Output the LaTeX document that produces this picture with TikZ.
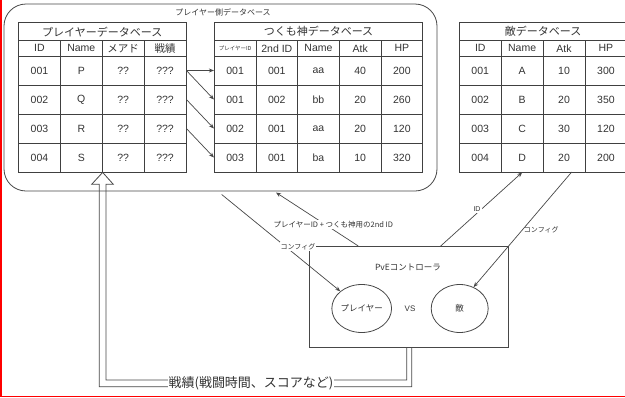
\documentclass[tikz,border=0pt]{standalone}
\usepackage{fontspec}
\setmainfont{Liberation Sans}
\newfontfamily\jp{Noto Sans CJK JP}
\usetikzlibrary{arrows.meta,shapes.geometric}
\begin{document}
\begin{tikzpicture}[x=1pt,y=-1pt,
  ln/.style={draw=black!72, line width=0.8pt},
  cell/.style={draw=black!75, line width=0.8pt, inner sep=0pt, text=black!80,
    font=\fontsize{10.5}{12}\selectfont},
  ttl/.style={cell, font=\jp\fontsize{11}{12}\selectfont},
  arr/.style={draw=black!72, line width=0.7pt, -{Stealth[length=5pt,width=4pt]}},
  lbl/.style={font=\jp\fontsize{7}{8}\selectfont, text=black!80, inner sep=1pt, fill=white},
  small/.style={font=\jp\fontsize{8.5}{10}\selectfont, text=black!80}]
\useasboundingbox (0,0) rectangle (625,397);
\draw[red, line width=1.5pt] (0.75,0) -- (0.75,396.3) -- (625,396.3);

% outer group
\node[ln, rounded corners=22pt, minimum width=433pt, minimum height=187pt, inner sep=0pt] (side) at (220.5,97.5) {};
\node[font=\jp\fontsize{8}{9}\selectfont, text=black!80] (sidelbl) at (223,12.5) {プレイヤー側データベース};

% player table
\node[ttl, minimum width=167.5pt, minimum height=18pt] (pt) at (102.25,31.7) {プレイヤーデータベース};
\foreach \t [count=\c] in {ID,Name,{\jp メアド},{\jp 戦績}}
  \node[cell, minimum width=41.875pt, minimum height=15.3pt] (ph\c) at ({18.5+41.875*(\c-0.5)},48.35) {\t};
\foreach \row [count=\r] in {{001,P,??,???},{002,Q,??,???},{003,R,??,???},{004,S,??,???}}
  \foreach \t [count=\c] in \row
    \node[cell, minimum width=41.875pt, minimum height=29pt] (p\r\c) at ({18.5+41.875*(\c-0.5)},{56+29*(\r-0.5)}) {\t};

% tsukumo table
\node[ttl, minimum width=208.4pt, minimum height=18pt] (tt) at (318.5,31.7) {つくも神データベース};
\foreach \t [count=\c] in {{\jp\fontsize{5.5}{6}\selectfont プレイヤーID},2nd ID,Name,Atk,HP}
  \node[cell, minimum width=41.68pt, minimum height=15.3pt] (th\c) at ({214.3+41.68*(\c-0.5)},48.35) {\t};
\foreach \row [count=\r] in {{001,001,aa,40,200},{001,002,bb,20,260},{002,001,aa,20,120},{003,001,ba,10,320}}
  \foreach \t [count=\c] in \row
    \node[cell, minimum width=41.68pt, minimum height=29pt] (t\r\c) at ({214.3+41.68*(\c-0.5)},{56+29*(\r-0.5)}) {\t};

% enemy table
\node[ttl, minimum width=167.6pt, minimum height=18pt] (et) at (543.1,31.7) {敵データベース};
\foreach \t [count=\c] in {ID,Name,Atk,HP}
  \node[cell, minimum width=41.9pt, minimum height=15.3pt] (eh\c) at ({459.3+41.9*(\c-0.5)},48.35) {\t};
\foreach \row [count=\r] in {{001,A,10,300},{002,B,20,350},{003,C,30,120},{004,D,20,200}}
  \foreach \t [count=\c] in \row
    \node[cell, minimum width=41.9pt, minimum height=29pt] (e\r\c) at ({459.3+41.9*(\c-0.5)},{56+29*(\r-0.5)}) {\t};

% player -> tsukumo links
\draw[arr] (p14.east) -- (t11.west);
\draw[arr] (p14.east) -- (t21.west);
\draw[arr] (p24.east) -- (t31.west);
\draw[arr] (p34.east) -- (t41.west);

% controller
\node[ln, minimum width=199pt, minimum height=101pt, inner sep=0pt] (ctrl) at (408.6,296.5) {};
\node[small] (ctrlttl) at (408,267) {PvEコントローラ};
\node[ln, ellipse, minimum width=57pt, minimum height=48pt, inner sep=0pt, small] (pl) at (361.7,308.5) {プレイヤー};
\node[small, font=\fontsize{8}{9}\selectfont] (vs) at (410,308.5) {VS};
\node[ln, ellipse, minimum width=57pt, minimum height=48pt, inner sep=0pt, small] (en) at (459.7,308.5) {敵};

% connector end points
\coordinate (cfgA) at (221.7,194.5);
\coordinate (idA) at (358.3,246);
\coordinate (idB) at (276,192.5);
\coordinate (eidA) at (440.7,246);
\coordinate (ecfgA) at (571.7,172);
\coordinate (resR) at (411.7,0);
\coordinate (resL) at (406.7,0);

\draw[arr] (cfgA) -- (pl.north west);
\draw[arr] (idA) -- (idB);
\draw[arr] (eidA) -- (e42.south);
\draw[arr] (ecfgA) -- (en.57) node[pos=0.5, anchor=west, font=\jp\fontsize{7}{8}\selectfont, text=black!80, inner sep=1pt] (ecfglbl) {コンフィグ};

\node[lbl] (cfglbl) at (298,246.5) {コンフィグ};
\node[lbl, font=\jp\fontsize{7.5}{8}\selectfont] (idlbl) at (333.3,224.3) {プレイヤーID + つくも神用の2nd ID};
\node[lbl, font=\fontsize{7}{8}\selectfont] (eidlbl) at (477,209.3) {ID};

% hollow result arrow
\draw[ln, line join=miter] (ctrl.south -| resR) -- (411.7,386.7) -- (99.3,386.7) -- (99.3,184.3)
  -- (91.7,184.3) -- (p42.south east) -- (113.3,184.3) -- (106,184.3) -- (106,380)
  -- (406.7,380) -- (ctrl.south -| resL);
\node[lbl, font=\jp\fontsize{13}{14}\selectfont, inner sep=0.5pt] (reslbl) at (251,383.3) {戦績(戦闘時間、スコアなど)};
\end{tikzpicture}
\end{document}
